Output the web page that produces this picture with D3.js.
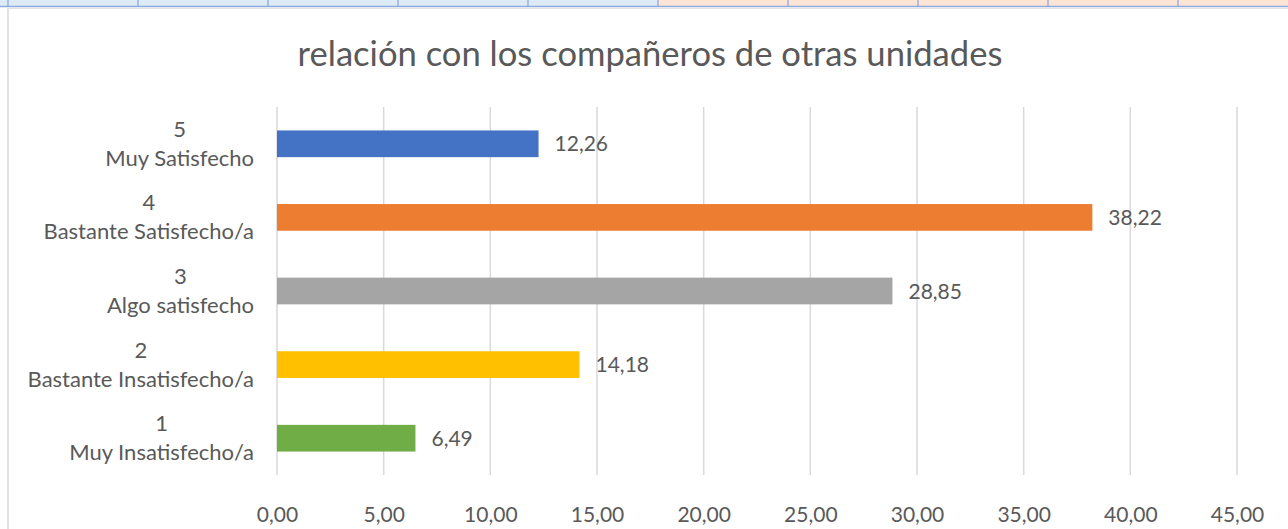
<!DOCTYPE html>
<html>
<head>
<meta charset="utf-8">
<script src="https://cdn.jsdelivr.net/npm/d3@7"></script>
<style>
  html, body { margin: 0; padding: 0; background: #fff; }
  svg { display: block; }
  text { font-family: Lato, "Open Sans", sans-serif; fill: #595959; }
</style>
</head>
<body>
<svg id="chart" width="1288" height="529"></svg>
<script>
// ---- data ----
const title = "relación con los compañeros de otras unidades";
const categoryNumbers = ["5", "4", "3", "2", "1"];
const categoryNames = ["Muy Satisfecho", "Bastante Satisfecho/a", "Algo satisfecho", "Bastante Insatisfecho/a", "Muy Insatisfecho/a"];
const values = [12.26, 38.22, 28.85, 14.18, 6.49];
const barColors = ["#4472C4", "#ED7D31", "#A5A5A5", "#FFC000", "#70AD47"];
const xTicks = [0, 5, 10, 15, 20, 25, 30, 35, 40, 45];

const fmt = v => d3.format(".2f")(v).replace(".", ",");

const svg = d3.select("#chart");
const W = 1288, H = 529;

// ---- spreadsheet strip at top ----
const cellW = 130, cellX0 = 8;
const strip = svg.append("g");
strip.append("rect").attr("x", 0).attr("y", 0).attr("width", W).attr("height", 7).attr("fill", "#DDEBF7");
const cellsX = d3.range(-1, 10).map(i => cellX0 + i * cellW);
strip.selectAll("rect.cell").data(cellsX).join("rect")
  .attr("class", "cell")
  .attr("x", d => d).attr("y", 0).attr("width", cellW).attr("height", 6)
  .attr("fill", d => d >= 658 ? "#FCE4D6" : "#DDEBF7");
strip.append("line").attr("x1", 0).attr("x2", W).attr("y1", 6.5).attr("y2", 6.5)
  .attr("stroke", "#8EA9DB").attr("stroke-width", 1.3);
strip.selectAll("line.v").data(cellsX.filter(d => d > 0)).join("line")
  .attr("class", "v")
  .attr("x1", d => d).attr("x2", d => d).attr("y1", 0).attr("y2", 7)
  .attr("stroke", "#8EA9DB").attr("stroke-width", 1.3);

// ---- chart area border ----
svg.append("line").attr("x1", 8).attr("x2", W).attr("y1", 8.5).attr("y2", 8.5)
  .attr("stroke", "#E3E3E3").attr("stroke-width", 1);
svg.append("line").attr("x1", 8).attr("x2", 8).attr("y1", 8).attr("y2", H)
  .attr("stroke", "#D9D9D9").attr("stroke-width", 1.5);

// ---- scales ----
const plotTop = 107, plotBottom = 475;
const x = d3.scaleLinear().domain([0, 45]).range([277, 1237]);
const y = d3.scaleBand().domain(categoryNames).range([plotTop, plotBottom])
  .paddingInner(0.637).paddingOuter(0.3185);

// ---- title ----
svg.append("text")
  .attr("x", 650).attr("y", 66)
  .attr("text-anchor", "middle")
  .style("font-size", "34.6px")
  .text(title);

// ---- gridlines ----
svg.append("g").selectAll("line").data(xTicks).join("line")
  .attr("x1", d => x(d)).attr("x2", d => x(d))
  .attr("y1", plotTop).attr("y2", plotBottom)
  .attr("stroke", "#D9D9D9").attr("stroke-width", 1.5);

// ---- x axis tick labels ----
const xAxis = d3.axisBottom(x).tickValues(xTicks).tickFormat(fmt).tickSize(0).tickPadding(0);
const gx = svg.append("g").attr("transform", `translate(0, ${plotBottom})`).call(xAxis);
gx.select(".domain").remove();
gx.selectAll("text")
  .attr("y", 47).attr("dy", null)
  .style("font-size", "21px")
  .style("font-family", "Lato, 'Open Sans', sans-serif")
  .attr("fill", "#595959");

// ---- bars ----
svg.append("g").selectAll("rect").data(values).join("rect")
  .attr("x", x(0))
  .attr("y", (d, i) => y(categoryNames[i]))
  .attr("width", d => x(d) - x(0))
  .attr("height", y.bandwidth())
  .attr("fill", (d, i) => barColors[i]);

// ---- value labels ----
svg.append("g").selectAll("text").data(values).join("text")
  .attr("x", d => x(d) + 16)
  .attr("y", (d, i) => y(categoryNames[i]) + y.bandwidth() / 2 + 7.5)
  .style("font-size", "21px")
  .text(d => fmt(d));

// ---- category labels (two lines, centered to each other, block right-aligned) ----
const labelRight = 254;
const gy = svg.append("g");
categoryNames.forEach((name, i) => {
  const cy = y(name) + y.bandwidth() / 2;
  const g = gy.append("g");
  const t1 = g.append("text").attr("y", cy - 7).style("font-size", "22px").attr("text-anchor", "middle").text(categoryNumbers[i]);
  const t2 = g.append("text").attr("y", cy + 22).style("font-size", "22px").attr("text-anchor", "middle").text(name);
  const w = Math.max(t1.node().getComputedTextLength(), t2.node().getComputedTextLength());
  const cx = labelRight - w / 2;
  t1.attr("x", cx);
  t2.attr("x", cx);
});
</script>
</body>
</html>
